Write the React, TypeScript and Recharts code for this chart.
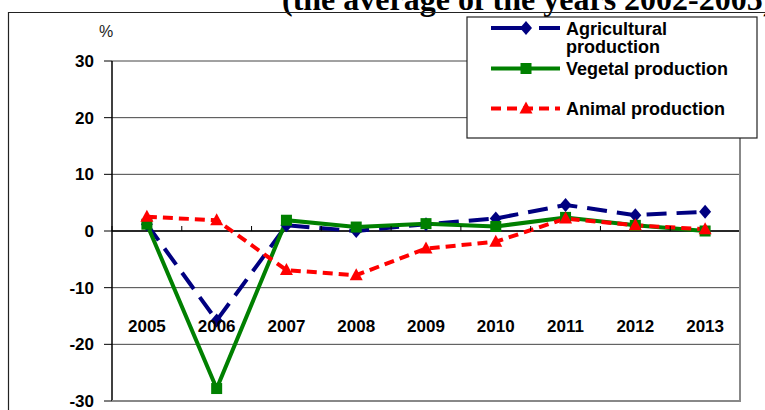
import React from "react";
import {
  LineChart,
  Line,
  XAxis,
  YAxis,
  CartesianGrid,
  ReferenceLine,
} from "recharts";

const years = ["2005", "2006", "2007", "2008", "2009", "2010", "2011", "2012", "2013"];
const agricultural = [1.2, -15.8, 1.0, 0.0, 1.2, 2.2, 4.6, 2.8, 3.4];
const vegetal = [1.2, -27.8, 1.9, 0.7, 1.3, 0.8, 2.4, 1.0, 0.0];
const animal = [2.5, 1.9, -6.9, -7.8, -3.1, -1.9, 2.2, 1.0, 0.3];
const yTicks = [-30, -20, -10, 0, 10, 20, 30];

const data = years.map((year, i) => ({
  year,
  agricultural: agricultural[i],
  vegetal: vegetal[i],
  animal: animal[i],
}));

const W = 765;
const H = 410;
const PLOT_LEFT = 112;
const PLOT_RIGHT = 740;
const PLOT_TOP = 61;
const PLOT_BOTTOM = 401;
const ZERO_Y = (PLOT_TOP + PLOT_BOTTOM) / 2;
const BAND = (PLOT_RIGHT - PLOT_LEFT) / years.length;
const LABEL_Y = 326;

const NAVY = "#000080";
const GREEN = "#008000";
const RED = "#ff0000";
const FONT = "'Liberation Sans', Arial, sans-serif";

const diamond = (cx: number, cy: number, key?: any) => (
  <path key={key} d={`M${cx},${cy - 7}L${cx + 6},${cy}L${cx},${cy + 7}L${cx - 6},${cy}Z`} fill={NAVY} />
);
const square = (cx: number, cy: number, key?: any) => (
  <rect key={key} x={cx - 5.5} y={cy - 5.5} width={11} height={11} fill={GREEN} />
);
const triangle = (cx: number, cy: number, key?: any) => (
  <path key={key} d={`M${cx},${cy - 7}L${cx + 6.5},${cy + 5}L${cx - 6.5},${cy + 5}Z`} fill={RED} />
);

// x labels sit well below the zero line, ticks sit on it
function YearTick(props: any) {
  const { x, payload, index } = props;
  return (
    <g>
      <line x1={x - BAND / 2} x2={x - BAND / 2} y1={ZERO_Y - 5} y2={ZERO_Y} stroke="#000" strokeWidth={1} />
      {index === years.length - 1 && (
        <line x1={x + BAND / 2} x2={x + BAND / 2} y1={ZERO_Y - 5} y2={ZERO_Y} stroke="#000" strokeWidth={1} />
      )}
      <text
        x={x}
        y={LABEL_Y}
        textAnchor="middle"
        dominantBaseline="central"
        fontFamily={FONT}
        fontWeight="bold"
        fontSize={17}
        fill="#000"
      >
        {payload.value}
      </text>
    </g>
  );
}

const legendItems = [
  { name: ["Agricultural", "production"], color: NAVY, dash: "34 14", y: 28, marker: diamond },
  { name: ["Vegetal production"], color: GREEN, dash: undefined, y: 68.5, marker: square },
  { name: ["Animal production"], color: RED, dash: "10 6", y: 108.5, marker: triangle },
];

export default function App() {
  return (
    <div style={{ position: "absolute", left: 0, top: 0, width: W, height: H, overflow: "hidden", background: "#fff" }}>
      <LineChart
        width={W}
        height={H}
        data={data}
        margin={{ top: PLOT_TOP, right: W - PLOT_RIGHT, bottom: 0, left: 12 }}
      >
        <CartesianGrid vertical={false} stroke="#444" strokeWidth={1} />
        <XAxis
          dataKey="year"
          height={H - PLOT_BOTTOM}
          padding={{ left: BAND / 2, right: BAND / 2 }}
          axisLine={false}
          tickLine={false}
          interval={0}
          tick={<YearTick />}
        />
        <YAxis
          width={100}
          domain={[-30, 30]}
          ticks={yTicks}
          interval={0}
          axisLine={{ stroke: "#000", strokeWidth: 1.5 }}
          tickLine={{ stroke: "#000" }}
          tickSize={8}
          tickMargin={10}
          tick={{ fontFamily: FONT, fontWeight: "bold", fontSize: 17, fill: "#000" }}
        />
        <ReferenceLine y={0} stroke="#000" strokeWidth={1.5} />
        <Line
          dataKey="agricultural"
          stroke={NAVY}
          strokeWidth={4}
          strokeDasharray="20 10"
          isAnimationActive={false}
          dot={(p: any) => diamond(p.cx, p.cy, p.index)}
        />
        <Line
          dataKey="vegetal"
          stroke={GREEN}
          strokeWidth={4}
          isAnimationActive={false}
          dot={(p: any) => square(p.cx, p.cy, p.index)}
        />
        <Line
          dataKey="animal"
          stroke={RED}
          strokeWidth={4}
          strokeDasharray="10 6"
          isAnimationActive={false}
          dot={(p: any) => triangle(p.cx, p.cy, p.index)}
        />
      </LineChart>
      <svg
        width={W}
        height={H}
        style={{ position: "absolute", left: 0, top: 0, pointerEvents: "none" }}
      >
        <text x={282} y={9.5} fontFamily="'Liberation Serif', 'Times New Roman', serif" fontWeight="bold" fontSize={32} fill="#000">
          (the average of the years 2002-2005)
        </text>
        <path d={`M8.5,${H}V12.5H${W}`} fill="none" stroke="#222" strokeWidth={1.2} />
        <text x={106} y={37} textAnchor="middle" fontFamily={FONT} fontSize={16} fill="#222">
          %
        </text>
        <line x1={PLOT_RIGHT} x2={PLOT_RIGHT} y1={PLOT_TOP} y2={PLOT_BOTTOM + 1} stroke="#888" strokeWidth={2} />
        <line x1={PLOT_LEFT} x2={PLOT_RIGHT + 1} y1={PLOT_BOTTOM} y2={PLOT_BOTTOM} stroke="#888" strokeWidth={2} />
        <rect x={467} y={17} width={290} height={121} fill="#fff" stroke="#222" strokeWidth={1.2} />
        {legendItems.map((it) => (
          <g key={it.name[0]}>
            <line x1={491} x2={560} y1={it.y} y2={it.y} stroke={it.color} strokeWidth={4} strokeDasharray={it.dash} />
            {it.marker(526, it.y)}
            {it.name.map((n, j) => (
              <text
                key={n}
                x={566}
                y={it.y + 6.5 + j * 18.5}
                fontFamily={FONT}
                fontWeight="bold"
                fontSize={18}
                fill="#000"
              >
                {n}
              </text>
            ))}
          </g>
        ))}
      </svg>
    </div>
  );
}
